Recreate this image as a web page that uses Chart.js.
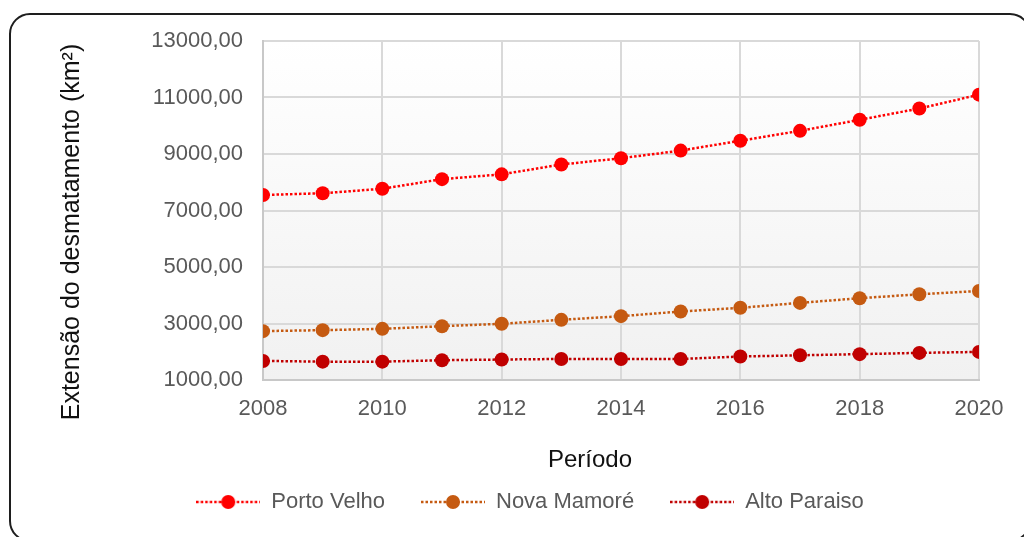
<!DOCTYPE html>
<html><head><meta charset="utf-8">
<script src="https://cdn.jsdelivr.net/npm/chart.js@4.4.1/dist/chart.umd.min.js"></script>
<style>
html,body{margin:0;padding:0;background:#fff;overflow:hidden;width:1024px;height:537px}
#frame{position:absolute;left:9px;top:13px;width:1022px;height:529px;box-sizing:border-box;border:2px solid #1e1e1e;border-radius:21px;}
#wrap{position:absolute;left:0;top:0;width:1024px;height:537px}
</style></head><body>
<div id="frame"></div>
<div id="wrap"><canvas id="c" width="1024" height="537"></canvas></div>
<script>
const years = [2008,2009,2010,2011,2012,2013,2014,2015,2016,2017,2018,2019,2020];
const portoVelho = [7550,7610,7770,8110,8280,8630,8850,9120,9470,9820,10210,10610,11100];
const novaMamore = [2730,2765,2810,2905,2990,3130,3260,3425,3555,3730,3895,4035,4150];
const altoParaiso = [1675,1650,1650,1700,1725,1745,1745,1745,1830,1875,1915,1960,1995];
const seriesNames = ['Porto Velho','Nova Mamoré','Alto Paraiso'];
const seriesColors = ['#ff0000','#c55a11','#c00000'];
const yTickValues = [1000,3000,5000,7000,9000,11000,13000];
const xTickValues = [2008,2010,2012,2014,2016,2018,2020];
const yTitle = 'Extensão do desmatamento (km²)';
const xTitle = 'Período';

const FONT = "'Liberation Sans', Arial, sans-serif";
const seriesValues = [portoVelho, novaMamore, altoParaiso];

function makeIcon(color){
  const cv = document.createElement('canvas');
  cv.width = 64; cv.height = 18;
  const g = cv.getContext('2d');
  g.strokeStyle = color; g.lineWidth = 2.5; g.setLineDash([2.5,2]);
  g.beginPath(); g.moveTo(0,9); g.lineTo(64,9); g.stroke();
  g.setLineDash([]);
  g.fillStyle = color; g.beginPath(); g.arc(32,9,7,0,Math.PI*2); g.fill();
  return cv;
}
const icons = seriesColors.map(makeIcon);

const datasets = seriesNames.map((name,i)=>({
  label: name,
  data: years.map((y,j)=>({x:y, y:seriesValues[i][j]})),
  borderColor: seriesColors[i],
  backgroundColor: seriesColors[i],
  borderWidth: 2.5,
  borderDash: [2.5,2],
  pointRadius: 7,
  pointHoverRadius: 7,
  pointBorderWidth: 0,
  tension: 0
}));

const bgPlugin = {
  id:'bg',
  beforeDraw(chart){
    const {ctx, chartArea:a} = chart;
    const gr = ctx.createLinearGradient(0,a.top,0,a.bottom);
    gr.addColorStop(0,'#ffffff'); gr.addColorStop(1,'#f1f1f1');
    ctx.save(); ctx.fillStyle = gr; ctx.fillRect(a.left,a.top,a.right-a.left,a.bottom-a.top); ctx.restore();
  },
  afterDraw(chart){
    const ctx = chart.ctx;
    ctx.save();
    ctx.fillStyle = '#111';
    ctx.textAlign = 'center'; ctx.textBaseline = 'middle';
    ctx.font = "25px " + FONT;
    ctx.translate(72, 232); ctx.rotate(-Math.PI/2);
    ctx.fillText(yTitle, 0, 0);
    ctx.restore();
    ctx.save();
    ctx.fillStyle = '#111';
    ctx.textAlign = 'center'; ctx.textBaseline = 'middle';
    ctx.font = "24px " + FONT;
    ctx.fillText(xTitle, 590, 460);
    ctx.restore();
  }
};

new Chart(document.getElementById('c'), {
  type:'line',
  data:{datasets},
  plugins:[bgPlugin],
  options:{
    responsive:false, animation:false, events:[],
    layout:{padding:{left:81,right:45,top:41,bottom:14}},
    scales:{
      x:{type:'linear', min:2008, max:2020,
        afterBuildTicks(s){ s.ticks = xTickValues.map(v=>({value:v})); },
        afterFit(s){ s.height = 75; },
        ticks:{color:'#595959', font:{family:FONT,size:22}, padding:16, callback:v=>String(v), maxRotation:0},
        grid:{color:'#d9d9d9', lineWidth:2, drawTicks:false},
        border:{color:'#c8c8c8', width:2}
      },
      y:{min:1000, max:13000,
        afterBuildTicks(s){ s.ticks = yTickValues.map(v=>({value:v})); },
        afterFit(s){ s.width = 182; },
        ticks:{color:'#595959', font:{family:FONT,size:22}, padding:20, callback:v=>v.toFixed(2).replace('.',',')},
        grid:{color:'#d9d9d9', lineWidth:2, drawTicks:false},
        border:{color:'#c8c8c8', width:2}
      }
    },
    plugins:{
      tooltip:{enabled:false},
      legend:{position:'bottom',
        labels:{usePointStyle:true, pointStyleWidth:64, padding:36, color:'#595959', font:{family:FONT,size:22},
          generateLabels(chart){
            const items = Chart.defaults.plugins.legend.labels.generateLabels(chart);
            items.forEach(it=>{ it.pointStyle = icons[it.datasetIndex]; });
            return items;
          }}
      }
    }
  }
});
</script>
</body></html>
